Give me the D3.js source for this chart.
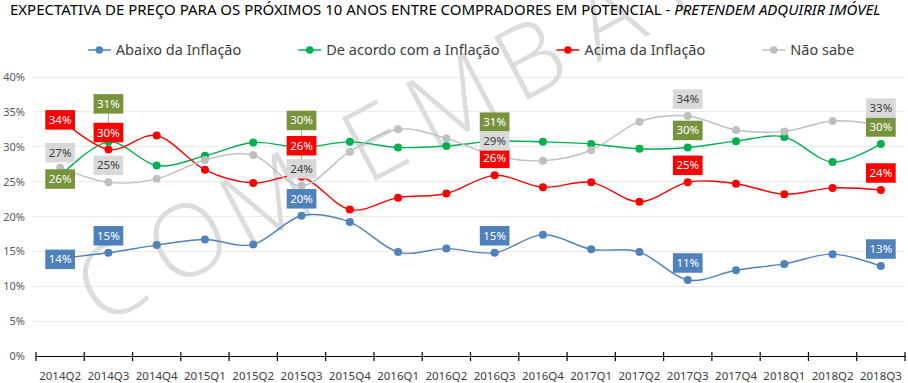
<!DOCTYPE html>
<html><head><meta charset="utf-8">
<script src="https://cdn.jsdelivr.net/npm/d3@7"></script>
<style>body{margin:0;background:#fff}svg{display:block;font-family:"Noto Sans","Open Sans",sans-serif}</style>
</head><body><svg id="c" width="908" height="383"></svg>
<script>
// ---------- data ----------
const categories = ["2014Q2","2014Q3","2014Q4","2015Q1","2015Q2","2015Q3","2015Q4","2016Q1","2016Q2","2016Q3","2016Q4","2017Q1","2017Q2","2017Q3","2017Q4","2018Q1","2018Q2","2018Q3"];
const abaixo   = [14.0,14.8,15.9,16.7,16.0,20.1,19.2,14.9,15.4,14.8,17.4,15.3,14.9,10.9,12.3,13.2,14.6,12.9];
const deAcordo = [25.8,30.7,27.3,28.7,30.6,29.9,30.7,29.9,30.1,30.8,30.7,30.4,29.7,29.9,30.8,31.4,27.8,30.4];
const acima    = [34.0,29.6,31.6,26.7,24.8,25.7,21.0,22.7,23.3,25.9,24.2,24.9,22.1,24.9,24.7,23.2,24.1,23.8];
const naoSabe  = [27.0,24.9,25.4,28.1,28.8,24.4,29.3,32.5,31.2,28.7,28.0,29.5,33.6,34.4,32.4,32.2,33.7,33.1];
const seriesNames = ["Abaixo da Inflação","De acordo com a Inflação","Acima da Inflação","Não sabe"];
const yTicks = [0,5,10,15,20,25,30,35,40];
const labelIndices = [0,1,5,9,13,17];
const titleMain = "EXPECTATIVA DE PREÇO PARA OS PRÓXIMOS 10 ANOS ENTRE COMPRADORES EM POTENCIAL - ";
const titleItalic = "PRETENDEM ADQUIRIR IMÓVEL";
const watermark = "COM EMBARGO";

// ---------- styling / layout ----------
const styles = [
  {line:"#4f81bd", box:"#4f81bd", text:"#ffffff"},
  {line:"#00b050", box:"#77933c", text:"#ffffff"},
  {line:"#ff0000", box:"#ff0000", text:"#ffffff"},
  {line:"#bfbfbf", box:"#d9d9d9", text:"#404040"}
];
// label box centre offset (px) from its point; default -17
const labelOffsets = [
  {0:1},
  {0:3, 1:-38, 5:-27, 9:-19},
  {0:1, 5:-31},
  {0:-15, 9:-15}
];

const series = [abaixo, deAcordo, acima, naoSabe].map((v,i)=>({name:seriesNames[i], values:v, style:styles[i], offs:labelOffsets[i]}));

const svg = d3.select("#c");
const x = d3.scaleBand().domain(categories).range([36,905]).padding(0);
const y = d3.scaleLinear().domain([0,40]).range([356,77]);
const cx = c => x(c) + x.bandwidth()/2;

// gridlines
svg.append("g").selectAll("line").data(yTicks.filter(t=>t>0)).join("line")
  .attr("x1",33).attr("x2",905).attr("y1",d=>y(d)).attr("y2",d=>y(d))
  .attr("stroke","#ebebeb").attr("stroke-width",1).attr("shape-rendering","crispEdges");

// y axis labels
const ya = svg.append("g").attr("transform","translate(25,0)")
  .call(d3.axisLeft(y).tickValues(yTicks).tickFormat(d=>d+"%").tickSize(0).tickPadding(0));
ya.select(".domain").remove();
ya.selectAll("text").attr("font-size",11).attr("fill","#595959").attr("font-family","Noto Sans, sans-serif");

// watermark
const wm = svg.append("g").attr("pointer-events","none");
const ang = 28*Math.PI/180;
const letters = [];
let d = 0;
for (const ch of watermark) {
  if (ch === " ") { d += 35; continue; }
  letters.push({ch, d});
  d += 88;
}
wm.selectAll("text").data(letters).join("text")
  .attr("transform", l=>`translate(${110 + l.d*Math.cos(ang)},${281 - l.d*Math.sin(ang)}) rotate(-28)`)
  .attr("text-anchor","middle").attr("dy","0.36em")
  .attr("font-size",100).attr("font-weight",300).attr("font-family","Open Sans, Noto Sans, sans-serif")
  .attr("fill","#dcdcdc")
  .text(l=>l.ch);

// x axis
const xa = svg.append("g").attr("transform","translate(0,356)")
  .call(d3.axisBottom(x).tickSize(0).tickPadding(0));
xa.select(".domain").attr("stroke","#000").attr("stroke-width",1.2);
xa.selectAll(".tick text").attr("y",24).attr("dy",0).attr("font-size",11.5).attr("fill","#404040").attr("font-family","Noto Sans, sans-serif");
const edges = categories.map(c=>x(c)).concat([x(categories[categories.length-1])+x.bandwidth()]);
xa.append("g").selectAll("line").data(edges).join("line")
  .attr("x1",d=>d).attr("x2",d=>d).attr("y1",-4).attr("y2",5).attr("stroke","#000").attr("stroke-width",1.2);

// lines & points
const line = d3.line().x((v,i)=>cx(categories[i])).y(v=>y(v)).curve(d3.curveCatmullRom.alpha(0));
const gS = svg.append("g");
series.forEach(s=>{
  gS.append("path").attr("d",line(s.values)).attr("fill","none").attr("stroke",s.style.line).attr("stroke-width",1.4);
  gS.append("g").selectAll("circle").data(s.values).join("circle")
    .attr("cx",(v,i)=>cx(categories[i])).attr("cy",v=>y(v)).attr("r",4).attr("fill",s.style.line);
});

// data labels
const fmt = v => d3.format(".0f")(v) + "%";
const gL = svg.append("g");
const gLead = gL.append("g");
const gBox = gL.append("g");
series.forEach(s=>{
  labelIndices.forEach(i=>{
    const v = s.values[i];
    const px = cx(categories[i]), py = y(v);
    const off = (s.offs[i] !== undefined) ? s.offs[i] : -17;
    const ly = py + off;
    const t = gBox.append("text").attr("x",px).attr("y",ly).attr("dy","0.35em")
      .attr("text-anchor","middle").attr("font-size",11.5).attr("fill",s.style.text)
      .attr("font-family","Noto Sans, sans-serif").text(fmt(v));
    const w = t.node().getComputedTextLength() + 7, h = 19.5;
    gBox.insert("rect", () => t.node()).attr("x",px-w/2).attr("y",ly-h/2).attr("width",w).attr("height",h).attr("fill",s.style.box);
    const gap = py - (ly + h/2);
    if (gap > 12) {
      gLead.append("line").attr("x1",px).attr("x2",px).attr("y1",ly+h/2).attr("y2",py-4)
        .attr("stroke","#a6a6a6").attr("stroke-width",1);
    }
  });
});

// legend
const lg = svg.append("g");
const items = series.map(s=>{
  const g = lg.append("g");
  g.append("line").attr("x1",0).attr("x2",23).attr("y1",50).attr("y2",50).attr("stroke",s.style.line).attr("stroke-width",1.5);
  g.append("circle").attr("cx",11.5).attr("cy",50).attr("r",3.8).attr("fill",s.style.line);
  const t = g.append("text").attr("x",28).attr("y",50).attr("dy","0.35em").attr("font-size",14.5).attr("fill","#404040").text(s.name);
  return {g, w: 28 + t.node().getComputedTextLength()};
});
const gapL = 57;
const total = d3.sum(items, d=>d.w) + gapL*(items.length-1);
let lx = 471 - total/2;
items.forEach(it=>{ it.g.attr("transform",`translate(${lx},0)`); lx += it.w + gapL; });

// title
const tt = svg.append("text").attr("x",0).attr("y",15).attr("font-size",15).attr("fill","#000").attr("font-family","Noto Sans, sans-serif");
tt.append("tspan").text(titleMain);
tt.append("tspan").attr("font-style","italic").text(titleItalic);
const tw = tt.node().getComputedTextLength();
const sc = 871 / tw;
tt.attr("transform",`translate(10,0) scale(${sc},1)`);
</script>
</body></html>
